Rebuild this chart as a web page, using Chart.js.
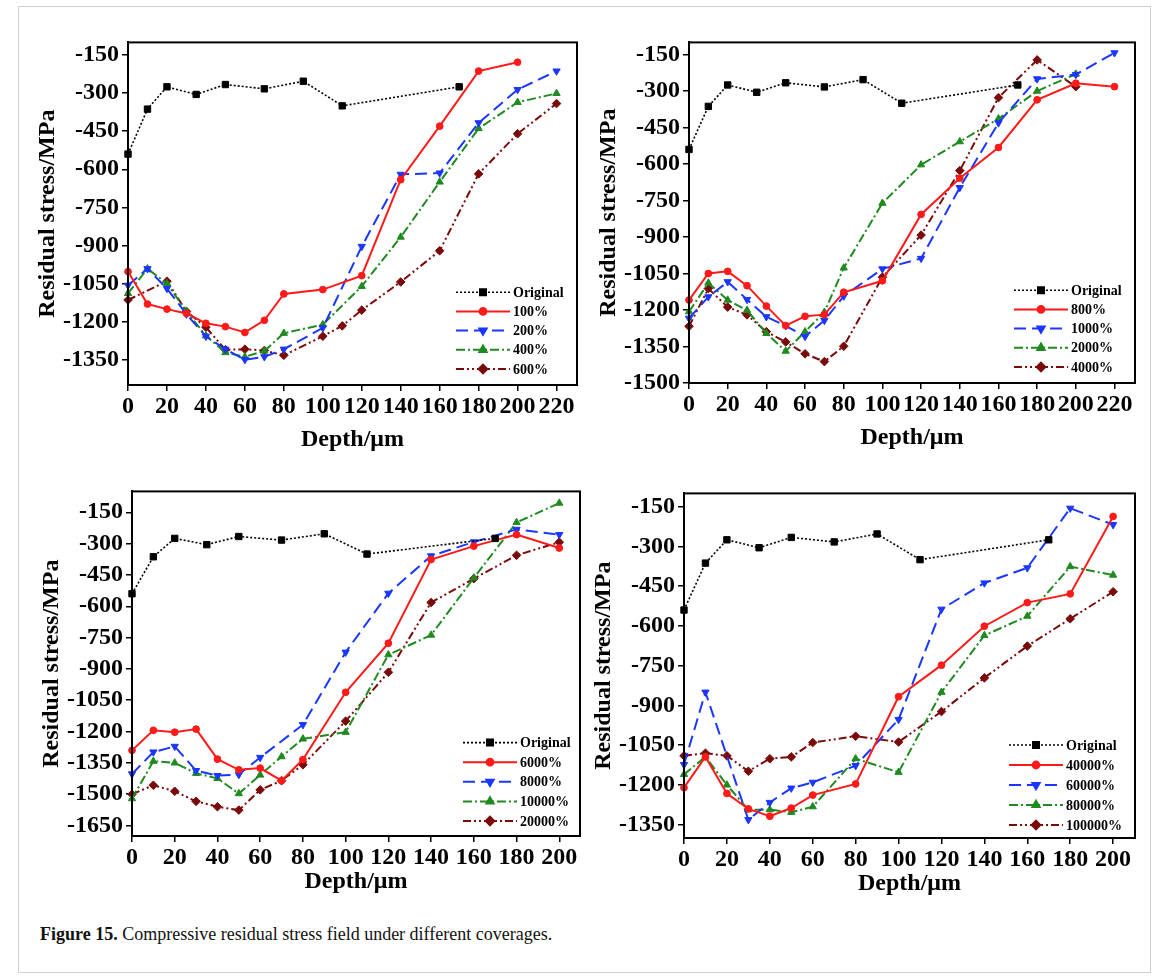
<!DOCTYPE html>
<html>
<head>
<meta charset="utf-8">
<script src="https://cdn.jsdelivr.net/npm/chart.js@4.4.0/dist/chart.umd.min.js"></script>
<style>
  body { margin: 0; background: #fff; width: 1168px; height: 980px; position: relative; overflow: hidden; }
  #border { position: absolute; left: 18px; top: 6px; width: 1131px; height: 965px; border: 1px solid #cfcfcf; }
  .panel { position: absolute; }
  #caption { position: absolute; left: 40px; top: 924px; font-family: 'Liberation Serif', 'Times New Roman', serif; font-size: 18px; color: #111; }
</style>
</head>
<body>
<div id="border"></div>
<div id="caption"><b>Figure 15.</b> Compressive residual stress field under different coverages.</div>

<script>
// ---- data ----
const origDepth  = [0, 10, 20, 35, 50, 70, 90, 110, 170];
const origStress = [-540, -363, -275, -305, -266, -283, -253, -350, -275];

const xTicks220 = [0, 20, 40, 60, 80, 100, 120, 140, 160, 180, 200, 220];
const xTicks200 = [0, 20, 40, 60, 80, 100, 120, 140, 160, 180, 200];

// top left: 100% .. 600%
const p1Labels = ['100%', '200%', '400%', '600%'];
const p1YTicks = [-150, -300, -450, -600, -750, -900, -1050, -1200, -1350];
const p1Depth100 = [0, 10, 20, 30, 40, 50, 60, 70, 80, 100, 120, 140, 160, 180, 200];
const p1Stress100 = [-1003, -1131, -1151, -1168, -1207, -1220, -1243, -1195, -1091, -1074, -1019, -641, -430, -213, -178];
const p1Depth200 = [0, 10, 20, 30, 40, 50, 60, 70, 80, 100, 120, 140, 160, 180, 200, 220];
const p1Stress200 = [-1057, -992, -1070, -1171, -1258, -1309, -1350, -1339, -1309, -1225, -904, -620, -615, -417, -286, -213];
const p1Depth400 = [0, 10, 20, 30, 40, 50, 60, 70, 80, 100, 120, 140, 160, 180, 200, 220];
const p1Stress400 = [-1089, -992, -1050, -1160, -1256, -1322, -1339, -1316, -1246, -1212, -1061, -867, -650, -439, -336, -301];
const p1Depth600 = [0, 20, 30, 40, 50, 60, 70, 80, 100, 110, 120, 140, 160, 180, 200, 220];
const p1Stress600 = [-1115, -1041, -1160, -1222, -1311, -1309, -1314, -1333, -1258, -1217, -1155, -1044, -921, -618, -460, -341];

// top right: 800% .. 4000%
const p2Labels = ['800%', '1000%', '2000%', '4000%'];
const p2YTicks = [-150, -300, -450, -600, -750, -900, -1050, -1200, -1350, -1500];
const p2Depth800 = [0, 10, 20, 30, 40, 50, 60, 70, 80, 100, 120, 140, 160, 180, 200, 220];
const p2Stress800 = [-1159, -1050, -1041, -1100, -1184, -1264, -1226, -1219, -1127, -1080, -807, -658, -532, -336, -268, -282];
const p2Depth1000 = [0, 10, 20, 30, 40, 50, 60, 70, 80, 100, 120, 140, 160, 180, 200, 220];
const p2Stress1000 = [-1234, -1146, -1084, -1157, -1228, -1265, -1309, -1243, -1143, -1031, -988, -697, -431, -250, -232, -143];
const p2Depth2000 = [0, 10, 20, 30, 40, 50, 60, 70, 80, 100, 120, 140, 160, 180, 200];
const p2Stress2000 = [-1207, -1089, -1159, -1201, -1296, -1369, -1289, -1209, -1027, -761, -603, -508, -414, -300, -230];
const p2Depth4000 = [0, 10, 20, 30, 40, 50, 60, 70, 80, 100, 120, 140, 160, 180, 200];
const p2Stress4000 = [-1267, -1112, -1188, -1220, -1289, -1331, -1380, -1412, -1349, -1065, -892, -627, -327, -172, -282];

// bottom left: 6000% .. 20000%
const p3Labels = ['6000%', '8000%', '10000%', '20000%'];
const p3YTicks = [-150, -300, -450, -600, -750, -900, -1050, -1200, -1350, -1500, -1650];
const p3Depth6000 = [0, 10, 20, 30, 40, 50, 60, 70, 80, 100, 120, 140, 160, 180, 200];
const p3Stress6000 = [-1290, -1194, -1203, -1188, -1332, -1383, -1375, -1435, -1334, -1012, -777, -376, -312, -257, -321];
const p3Depth8000 = [0, 10, 20, 30, 40, 50, 60, 80, 100, 120, 140, 160, 180, 200];
const p3Stress8000 = [-1403, -1298, -1271, -1387, -1411, -1406, -1324, -1167, -820, -538, -359, -292, -232, -257];
const p3Depth10000 = [0, 10, 20, 30, 40, 50, 60, 70, 80, 100, 120, 140, 160, 180, 200];
const p3Stress10000 = [-1521, -1342, -1350, -1400, -1424, -1497, -1408, -1320, -1235, -1203, -832, -738, -464, -199, -106];
const p3Depth20000 = [0, 10, 20, 30, 40, 50, 60, 70, 80, 100, 120, 140, 160, 180, 200];
const p3Stress20000 = [-1500, -1457, -1486, -1534, -1560, -1576, -1479, -1435, -1359, -1150, -916, -582, -468, -356, -293];

// bottom right: 40000% .. 100000%
const p4Labels = ['40000%', '60000%', '80000%', '100000%'];
const p4YTicks = [-150, -300, -450, -600, -750, -900, -1050, -1200, -1350];
const p4Depth40000 = [0, 10, 20, 30, 40, 50, 60, 80, 100, 120, 140, 160, 180, 200];
const p4Stress40000 = [-1210, -1094, -1232, -1290, -1318, -1287, -1238, -1196, -867, -748, -601, -512, -479, -187];
const p4Depth60000 = [0, 10, 30, 40, 50, 60, 80, 100, 120, 140, 160, 180, 200];
const p4Stress60000 = [-1123, -850, -1331, -1266, -1212, -1190, -1127, -953, -537, -438, -381, -156, -218];
const p4Depth80000 = [0, 10, 20, 30, 40, 50, 60, 80, 100, 120, 140, 160, 180, 200];
const p4Stress80000 = [-1160, -1094, -1200, -1293, -1293, -1303, -1282, -1101, -1152, -850, -636, -563, -376, -408];
const p4Depth100000 = [0, 10, 20, 30, 40, 50, 60, 80, 100, 120, 140, 160, 180, 200];
const p4Stress100000 = [-1090, -1080, -1090, -1148, -1101, -1094, -1040, -1016, -1038, -923, -796, -676, -573, -471];

// ---- styling ----
const FONT = "'Liberation Serif', 'Times New Roman', serif";
Chart.defaults.font.family = FONT;
Chart.defaults.font.weight = 'bold';
Chart.defaults.font.size = 24;
Chart.defaults.color = '#000';

// one style per series slot: Original, then the four coverages
const seriesStyles = [
  { color: '#000000', dash: [2, 2], width: 1.6, point: 'rect', radius: 4.5, rotation: 0 },
  { color: '#ff1a1a', dash: [], width: 2, point: 'circle', radius: 3.4, rotation: 0 },
  { color: '#1a36ff', dash: [12, 6], width: 2, point: 'triangle', radius: 4.2, rotation: 180 },
  { color: '#1f8a1f', dash: [9, 3, 2, 3], width: 2, point: 'triangle', radius: 4.2, rotation: 0 },
  { color: '#7a0a0a', dash: [8, 3, 2, 3, 2, 3], width: 2, point: 'rectRot', radius: 4.3, rotation: 0 }
];

function makeDataset(label, depth, stress, style) {
  return {
    label: label,
    data: depth.map((d, i) => ({ x: d, y: stress[i] })),
    borderColor: style.color,
    backgroundColor: style.color,
    borderWidth: style.width,
    borderDash: style.dash,
    pointStyle: style.point,
    pointRadius: style.radius,
    pointRotation: style.rotation,
    pointBorderWidth: 1,
    pointBackgroundColor: style.color,
    pointBorderColor: style.color,
    tension: 0,
    clip: false
  };
}

// frame around the plot area
const framePlugin = {
  id: 'frameBox',
  afterDatasetsDraw(chart) {
    const a = chart.chartArea, ctx = chart.ctx;
    ctx.save();
    ctx.strokeStyle = '#000';
    ctx.lineWidth = 2;
    ctx.setLineDash([]);
    ctx.strokeRect(a.left, a.top, a.right - a.left, a.bottom - a.top);
    ctx.restore();
  }
};

// legend drawn inside the bottom right corner, Origin style
const cornerLegend = {
  id: 'cornerLegend',
  afterDraw(chart, args, opts) {
    const a = chart.chartArea, ctx = chart.ctx;
    const n = chart.data.datasets.length;
    const textX = a.right - opts.dx;
    ctx.save();
    chart.data.datasets.forEach((ds, i) => {
      const y = a.bottom - opts.dy - (n - 1 - i) * opts.gap;
      ctx.strokeStyle = ds.borderColor;
      ctx.fillStyle = ds.borderColor;
      ctx.lineWidth = ds.borderWidth;
      ctx.setLineDash(ds.borderDash);
      ctx.beginPath();
      ctx.moveTo(textX - 57, y);
      ctx.lineTo(textX - 3, y);
      ctx.stroke();
      ctx.setLineDash([]);
      Chart.helpers.drawPoint(ctx, {
        pointStyle: ds.pointStyle, radius: ds.pointRadius,
        rotation: ds.pointRotation, borderWidth: 1
      }, textX - 30, y);
      ctx.fillStyle = '#000';
      ctx.font = 'bold 14px ' + FONT;
      ctx.textAlign = 'left';
      ctx.textBaseline = 'middle';
      ctx.fillText(ds.label, textX, y + 1);
    });
    ctx.restore();
  }
};

function buildPanel(id, frame, yMin, yMax, xMax, yTicks, xTicks, labels, depths, stresses, legend, titleGap) {
  const padL = 110, padT = 12, padR = 22, padB = 75;
  const cx = frame.left - padL, cy = frame.top - padT;
  const w = frame.right - cx + padR, h = frame.bottom - cy + padB;

  const div = document.createElement('div');
  div.className = 'panel';
  div.style.left = cx + 'px';
  div.style.top = cy + 'px';
  div.style.width = w + 'px';
  div.style.height = h + 'px';
  const canvas = document.createElement('canvas');
  canvas.id = id;
  canvas.width = w;
  canvas.height = h;
  div.appendChild(canvas);
  document.body.appendChild(div);

  const datasets = [makeDataset('Original', origDepth, origStress, seriesStyles[0])];
  labels.forEach((lab, i) => datasets.push(makeDataset(lab, depths[i], stresses[i], seriesStyles[i + 1])));

  new Chart(canvas.getContext('2d'), {
    type: 'line',
    data: { datasets: datasets },
    options: {
      responsive: false,
      animation: false,
      devicePixelRatio: 1,
      layout: { padding: { top: padT, right: padR, left: 0, bottom: 0 } },
      plugins: {
        legend: { display: false },
        tooltip: { enabled: false },
        cornerLegend: legend
      },
      scales: {
        x: {
          type: 'linear',
          min: 0,
          max: xMax,
          afterBuildTicks: (s) => { s.ticks = xTicks.map(v => ({ value: v })); },
          afterFit: (s) => { s.height = cy + h - frame.bottom; },
          ticks: { autoSkip: false, maxRotation: 0, padding: 1, font: { size: 24, weight: 'bold' },
                   callback: (v) => String(v) },
          grid: { drawOnChartArea: false, drawTicks: true, tickLength: 6, color: '#000', lineWidth: 1.5 },
          border: { display: true, color: '#000', width: 2 },
          title: {
            display: true, text: 'Depth/\u03bcm',
            font: { size: 24, weight: 'bold' },
            padding: { top: 0, bottom: padB - titleGap - 14.4 }
          }
        },
        y: {
          type: 'linear',
          min: yMin,
          max: yMax,
          afterBuildTicks: (s) => { s.ticks = yTicks.map(v => ({ value: v })); },
          afterFit: (s) => { s.width = frame.left - cx; },
          ticks: { autoSkip: false, padding: 3, font: { size: 24, weight: 'bold' },
                   callback: (v) => String(v) },
          grid: { drawOnChartArea: false, drawTicks: true, tickLength: 6, color: '#000', lineWidth: 1.5 },
          border: { display: true, color: '#000', width: 2 },
          title: {
            display: true, text: 'Residual stress/MPa',
            font: { size: 24, weight: 'bold' },
            padding: { top: padL - 80 - 14.4, bottom: 0 }
          }
        }
      }
    },
    plugins: [framePlugin, cornerLegend]
  });
}

buildPanel('c1', { left: 128, top: 37, right: 577, bottom: 385 }, -1450, -100, 230.5,
  p1YTicks, xTicks220, p1Labels,
  [p1Depth100, p1Depth200, p1Depth400, p1Depth600],
  [p1Stress100, p1Stress200, p1Stress400, p1Stress600],
  { dx: 64, dy: 16, gap: 19.2 }, 55);

buildPanel('c2', { left: 689, top: 37, right: 1135, bottom: 383 }, -1500, -100, 230.6,
  p2YTicks, xTicks220, p2Labels,
  [p2Depth800, p2Depth1000, p2Depth2000, p2Depth4000],
  [p2Stress800, p2Stress1000, p2Stress2000, p2Stress4000],
  { dx: 64, dy: 16, gap: 19.2 }, 55);

buildPanel('c3', { left: 132, top: 486, right: 580, bottom: 836 }, -1700, -50, 209.7,
  p3YTicks, xTicks200, p3Labels,
  [p3Depth6000, p3Depth8000, p3Depth10000, p3Depth20000],
  [p3Stress6000, p3Stress8000, p3Stress10000, p3Stress20000],
  { dx: 60, dy: 15, gap: 19.6 }, 46);

buildPanel('c4', { left: 684, top: 488, right: 1135, bottom: 838 }, -1400, -100, 210.2,
  p4YTicks, xTicks200, p4Labels,
  [p4Depth40000, p4Depth60000, p4Depth80000, p4Depth100000],
  [p4Stress40000, p4Stress60000, p4Stress80000, p4Stress100000],
  { dx: 69, dy: 13, gap: 20 }, 46);
</script>
</body>
</html>
